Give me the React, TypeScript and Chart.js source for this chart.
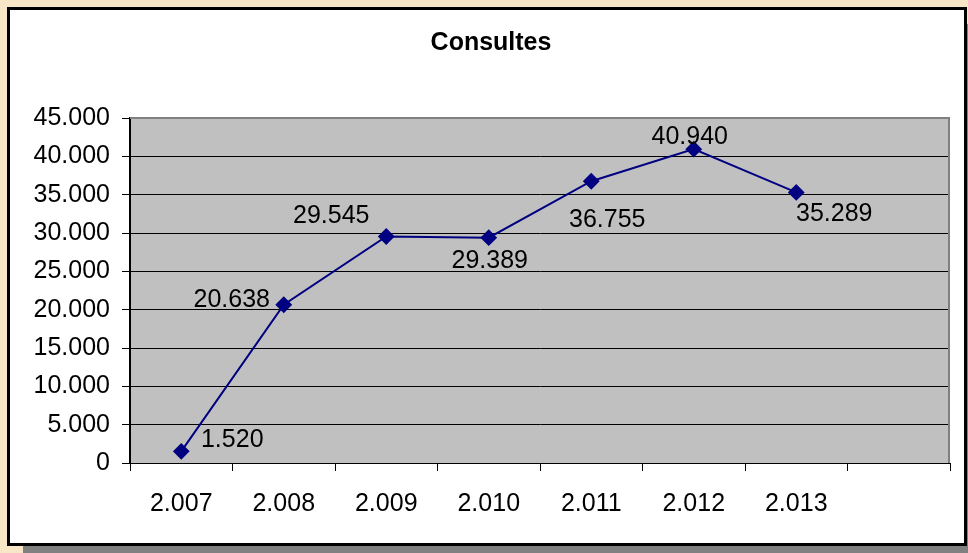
import React, { useEffect, useRef } from "react";
import { Chart, registerables } from "chart.js";

Chart.register(...registerables);

const categories = ["2.007", "2.008", "2.009", "2.010", "2.011", "2.012", "2.013", ""];
const consultes = [1520, 20638, 29545, 29389, 36755, 40940, 35289, null];
const yTicks = { min: 0, max: 45000, step: 5000 };
const chartTitle = "Consultes";

// label placement relative to each point (style only)
const labelOffsets = [
  [51, -11],
  [-52, -5],
  [-55, -20],
  [1, 23],
  [16, 39],
  [-4, -12],
  [38, 22],
];

const FONT = "'Liberation Sans', Arial, sans-serif";
const FS = 25;

function fmt(v: number): string {
  const s = Math.round(v).toString();
  return s.replace(/\B(?=(\d{3})+(?!\d))/g, ".");
}

const framePlugin = {
  id: "frame",
  beforeDraw(chart: any) {
    const { ctx, chartArea } = chart;
    ctx.save();
    ctx.fillStyle = "#F7E7C6";
    ctx.fillRect(0, 0, 968, 553);
    // shadow
    ctx.fillStyle = "#808080";
    ctx.fillRect(23, 24, 968, 553);
    // white box
    ctx.fillStyle = "#FFFFFF";
    ctx.fillRect(7, 7, 960, 539);
    ctx.strokeStyle = "#000000";
    ctx.lineWidth = 3;
    ctx.strokeRect(8.5, 8.5, 957, 536);
    // title
    ctx.fillStyle = "#000000";
    ctx.font = `bold ${FS}px ${FONT}`;
    ctx.textAlign = "center";
    ctx.textBaseline = "middle";
    ctx.fillText(chartTitle, 491, 43);
    // plot area
    ctx.fillStyle = "#C0C0C0";
    ctx.fillRect(chartArea.left, chartArea.top, chartArea.right - chartArea.left, chartArea.bottom - chartArea.top);
    ctx.restore();
  },
  beforeDatasetsDraw(chart: any) {
    const { ctx, chartArea } = chart;
    ctx.save();
    ctx.strokeStyle = "#808080";
    ctx.lineWidth = 2;
    ctx.beginPath();
    ctx.moveTo(chartArea.left, chartArea.top);
    ctx.lineTo(chartArea.right - 1, chartArea.top);
    ctx.lineTo(chartArea.right - 1, chartArea.bottom);
    ctx.stroke();
    ctx.restore();
  },
  afterDatasetsDraw(chart: any) {
    const { ctx } = chart;
    const meta = chart.getDatasetMeta(0);
    ctx.save();
    ctx.font = `${FS}px ${FONT}`;
    ctx.fillStyle = "#000000";
    ctx.textAlign = "center";
    ctx.textBaseline = "middle";
    meta.data.forEach((pt: any, i: number) => {
      const v = consultes[i];
      if (v == null) return;
      const off = labelOffsets[i] || [0, -15];
      ctx.fillText(fmt(v), pt.x + off[0], pt.y + off[1]);
    });
    ctx.restore();
  },
};

export default function App() {
  const ref = useRef<HTMLCanvasElement>(null);
  useEffect(() => {
    if (!ref.current) return;
    const chart = new Chart(ref.current, {
      type: "line",
      data: {
        labels: categories,
        datasets: [
          {
            data: consultes,
            borderColor: "#000080",
            backgroundColor: "#000080",
            borderWidth: 2,
            pointStyle: "rectRot",
            pointRadius: 7,
            pointHoverRadius: 7,
            pointBackgroundColor: "#000080",
            pointBorderColor: "#000080",
            tension: 0,
            spanGaps: false,
          },
        ],
      },
      options: {
        responsive: false,
        animation: false,
        layout: { padding: { left: 0, right: 18, top: 118, bottom: 0 } },
        plugins: {
          legend: { display: false },
          tooltip: { enabled: false },
          title: { display: false },
        },
        scales: {
          x: {
            type: "category",
            offset: true,
            grid: {
              display: true,
              offset: true,
              drawOnChartArea: false,
              drawTicks: true,
              tickLength: 8,
              color: "#000000",
              lineWidth: 1,
            },
            border: { display: true, color: "#000000", width: 1 },
            ticks: {
              color: "#000000",
              font: { family: FONT, size: FS },
              padding: 18,
              maxRotation: 0,
              autoSkip: false,
            },
            afterFit(scale: any) {
              scale.height = 90;
            },
          },
          y: {
            min: yTicks.min,
            max: yTicks.max,
            grid: {
              color: "#000000",
              tickColor: "#000000",
              lineWidth: 1,
              tickLength: 8,
            },
            border: { display: true, color: "#000000", width: 2 },
            ticks: {
              stepSize: yTicks.step,
              color: "#000000",
              font: { family: FONT, size: FS },
              padding: 12,
              callback: (v: any) => fmt(Number(v)),
            },
            afterFit(scale: any) {
              scale.width = 130;
            },
          },
        },
      },
      plugins: [framePlugin],
    });
    return () => chart.destroy();
  }, []);
  return (
    <div style={{ position: "fixed", left: 0, top: 0, width: 968, height: 553 }}>
      <canvas ref={ref} width={968} height={553} style={{ display: "block" }} />
    </div>
  );
}
